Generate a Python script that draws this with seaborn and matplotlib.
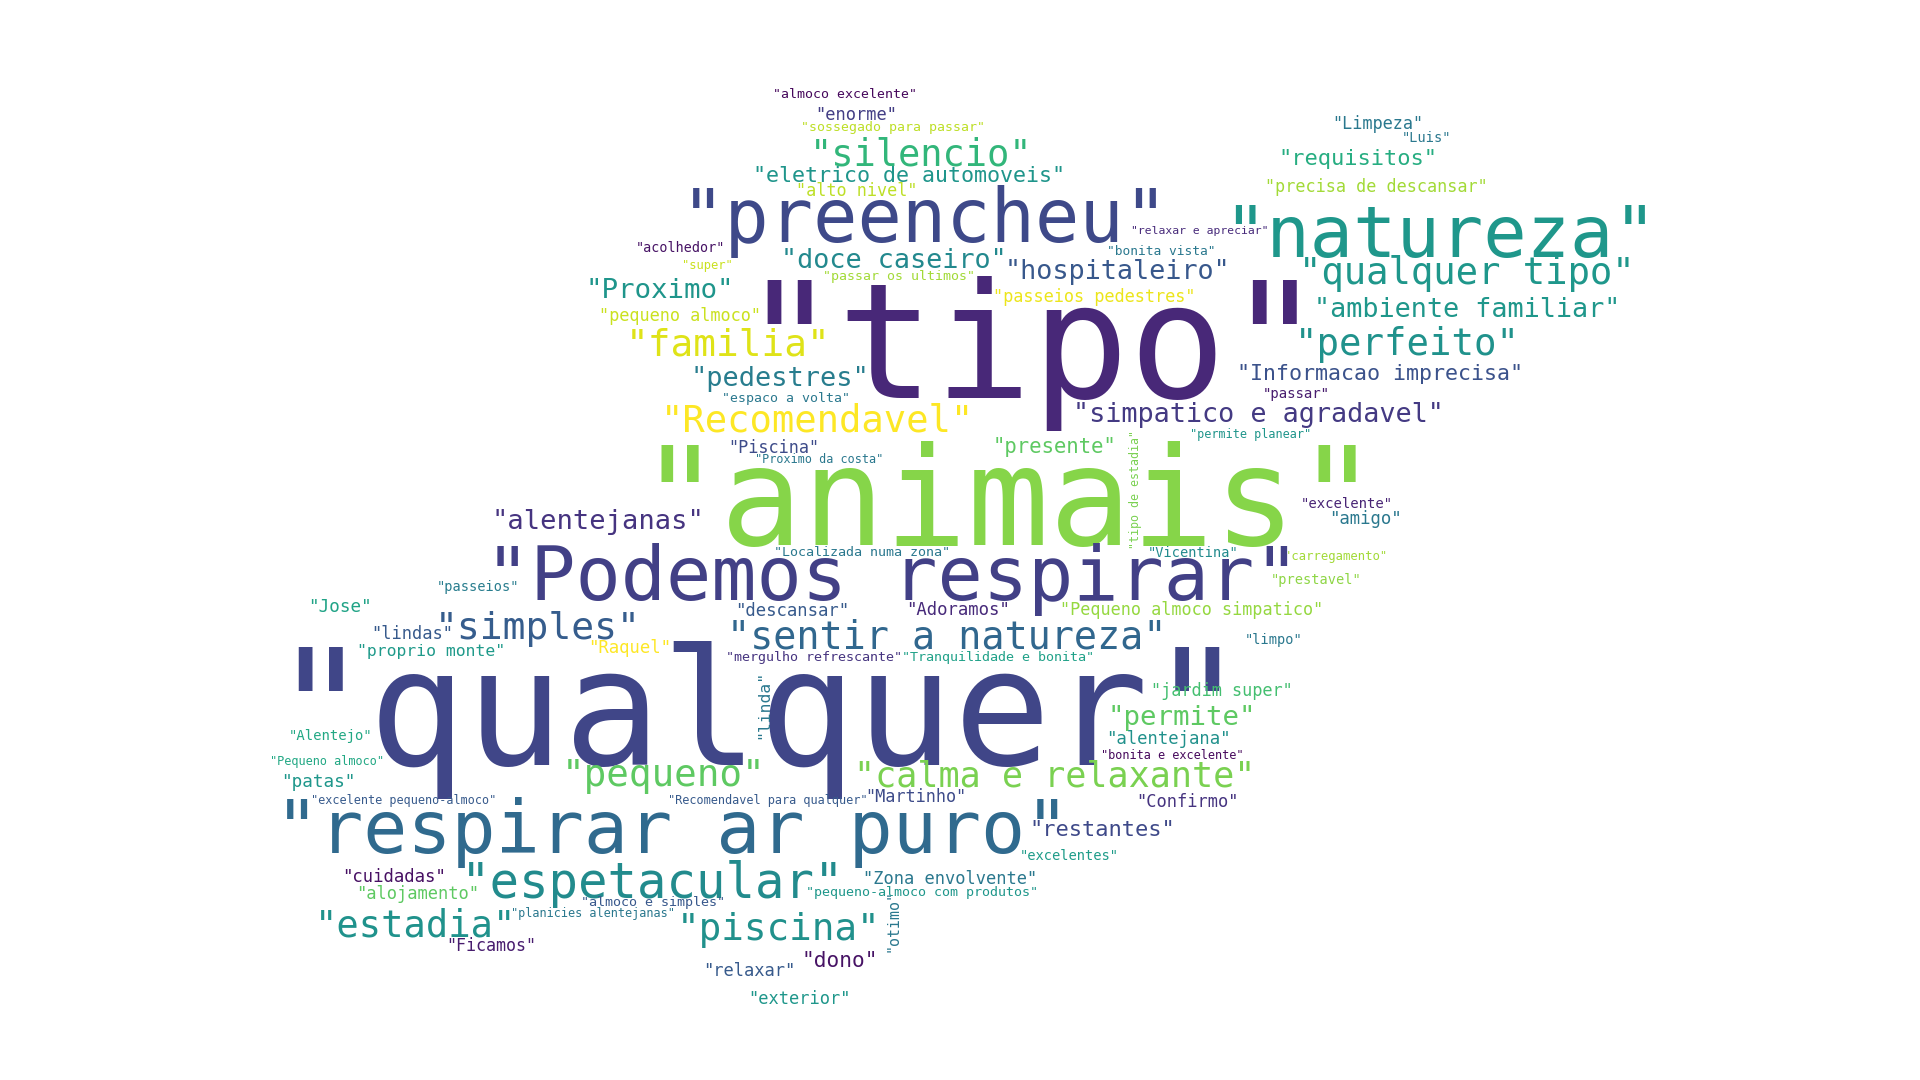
import numpy as np
import pandas as pd
import matplotlib
matplotlib.use("Agg")
import matplotlib.pyplot as plt
import seaborn as sns

# ---- data: words and their weights (relative size in the cloud) ----
words = [
    '"almoco excelente"', '"enorme"', '"sossegado para passar"', '"silencio"',
    '"eletrico de automoveis"', '"alto nivel"', '"preencheu"', '"natureza"',
    '"relaxar e apreciar"', '"bonita vista"', '"acolhedor"', '"super"',
    '"doce caseiro"', '"passar os ultimos"', '"hospitaleiro"', '"qualquer tipo"',
    '"Proximo"', '"tipo"', '"passeios pedestres"', '"ambiente familiar"',
    '"pequeno almoco"', '"familia"', '"perfeito"', '"pedestres"',
    '"Informacao imprecisa"', '"espaco a volta"', '"passar"', '"Recomendavel"',
    '"simpatico e agradavel"', '"permite planear"', '"Piscina"', '"Proximo da costa"',
    '"presente"', '"tipo de estadia"', '"animais"', '"excelente"',
    '"amigo"', '"alentejanas"', '"Localizada numa zona"', '"Vicentina"',
    '"carregamento"', '"Podemos respirar"', '"prestavel"', '"passeios"',
    '"Jose"', '"descansar"', '"Adoramos"', '"Pequeno almoco simpatico"',
    '"simples"', '"lindas"', '"sentir a natureza"', '"limpo"',
    '"proprio monte"', '"Raquel"', '"mergulho refrescante"', '"Tranquilidade e bonita"',
    '"qualquer"', '"linda"', '"jardim super"', '"permite"',
    '"Alentejo"', '"alentejana"', '"bonita e excelente"', '"Pequeno almoco"',
    '"patas"', '"pequeno"', '"calma e relaxante"', '"excelente pequeno-almoco"',
    '"Recomendavel para qualquer"', '"Martinho"', '"Confirmo"', '"respirar ar puro"',
    '"restantes"', '"excelentes"', '"cuidadas"', '"espetacular"',
    '"Zona envolvente"', '"pequeno-almoco com produtos"', '"alojamento"', '"almoco e simples"',
    '"planicies alentejanas"', '"estadia"', '"piscina"', '"otimo"',
    '"Ficamos"', '"relaxar"', '"dono"', '"exterior"',
    '"Limpeza"', '"Luis"', '"requisitos"', '"precisa de descansar"',
]
weights = [
    6.4, 8.0, 6.4, 17.6,
    10.5, 8.0, 35.1, 34.2,
    5.5, 6.2, 6.45, 5.7,
    12.9, 6.4, 12.9, 17.9,
    13.0, 75.0, 8.15, 13.0,
    8.1, 17.9, 17.8, 12.9,
    10.5, 6.4, 6.6, 17.9,
    13.0, 5.7, 8.0, 5.7,
    9.8, 5.6, 64.7, 6.6,
    8.1, 13.0, 6.5, 6.5,
    5.9, 36.3, 6.5, 6.5,
    8.2, 8.2, 8.2, 8.1,
    18.0, 8.0, 18.6, 6.4,
    7.9, 8.1, 6.5, 6.5,
    77.0, 7.7, 8.1, 13.0,
    6.6, 8.25, 5.75, 5.75,
    8.3, 17.8, 17.0, 5.7,
    5.75, 8.0, 8.1, 35.4,
    10.5, 6.6, 8.2, 23.5,
    8.2, 6.5, 8.2, 6.45,
    5.7, 17.6, 17.8, 7.0,
    7.9, 8.1, 9.8, 8.1,
    8.0, 6.3, 10.5, 8.1,
]

# ---- layout (cloud placement) kept apart from the data ----
# x = centre, y = baseline (or centre for vertical words), rotation in degrees
layout_x = [
    690, 699, 729, 752,
    742, 700, 755, 1176,
    980, 948, 556, 578,
    730, 734, 913, 1198,
    539, 843, 894, 1198,
    555, 595, 1149, 637,
    1127, 642, 1059, 668,
    1028, 1021, 632, 669,
    861, 927, 824, 1100,
    1115, 488, 704, 974,
    1091, 729, 1075, 390,
    278, 647, 782, 973,
    439, 337, 773, 1040,
    352, 514, 665, 815,
    620, 624, 998, 965,
    270, 954, 957, 267,
    260, 542, 861, 330,
    627, 748, 970, 549,
    900, 873, 322, 533,
    776, 753, 341, 533,
    484, 339, 636, 729,
    401, 612, 686, 653,
    1125, 1165, 1109, 1124,
]
layout_y = [
    80, 98, 107, 135,
    149, 160, 198, 210,
    191, 208, 206, 220,
    219, 229, 228, 232,
    243, 325, 247, 259,
    262, 290, 290, 315,
    310, 328, 325, 352,
    345, 358, 370, 378,
    370, 400, 445, 415,
    428, 432, 454, 455,
    457, 490, 477, 483,
    500, 503, 502, 502,
    522, 522, 530, 526,
    536, 533, 540, 540,
    625, 575, 568, 592,
    604, 608, 620, 625,
    643, 642, 642, 657,
    657, 655, 659, 697,
    683, 702, 720, 733,
    722, 732, 734, 740,
    749, 765, 768, 752,
    777, 797, 790, 820,
    105, 116, 135, 157,
]
rotation = [0] * len(words)
for w in ('"tipo de estadia"', '"linda"', '"otimo"'):
    rotation[words.index(w)] = 90

# colour position on the viridis map for each word
color_pos = [
    0.02, 0.18, 0.90, 0.66,
    0.52, 0.90, 0.22, 0.53,
    0.12, 0.40, 0.05, 0.92,
    0.47, 0.86, 0.27, 0.53,
    0.52, 0.11, 0.97, 0.53,
    0.92, 0.95, 0.51, 0.42,
    0.25, 0.40, 0.08, 1.00,
    0.17, 0.52, 0.23, 0.40,
    0.75, 0.80, 0.82, 0.10,
    0.40, 0.15, 0.40, 0.48,
    0.86, 0.19, 0.83, 0.42,
    0.58, 0.28, 0.12, 0.84,
    0.29, 0.28, 0.33, 0.40,
    0.54, 1.00, 0.15, 0.57,
    0.21, 0.40, 0.70, 0.75,
    0.60, 0.50, 0.02, 0.60,
    0.53, 0.75, 0.80, 0.28,
    0.28, 0.23, 0.15, 0.34,
    0.22, 0.55, 0.04, 0.48,
    0.40, 0.53, 0.75, 0.27,
    0.40, 0.51, 0.50, 0.40,
    0.08, 0.28, 0.05, 0.53,
    0.40, 0.40, 0.62, 0.86,
]

df = pd.DataFrame({"word": words, "weight": weights, "x": layout_x,
                   "y": layout_y, "rot": rotation, "c": color_pos})

sns.set_theme(style="white")
plt.rcParams["font.family"] = ["DejaVu Sans Mono", "DejaVu Sans"]
cmap = sns.color_palette("viridis", as_cmap=True)

W, H = 1568, 882
fig = plt.figure(figsize=(19.2, 10.8), dpi=100)
ax = fig.add_axes([0, 0, 1, 1])
ax.set_xlim(0, W)
ax.set_ylim(H, 0)
ax.axis("off")

scale = 1920 / W
for r in df.itertuples():
    n = len(r.word)
    # ink width of a monospace word ~ (n * advance - outer bearings) * size
    fs_px = r.weight * n * scale / (n * 0.602 - 0.2)
    fs_pt = fs_px * 72 / 100
    if r.rot == 0:
        ax.text(r.x, r.y, r.word, fontsize=fs_pt, color=cmap(r.c),
                ha="center", va="baseline")
    else:
        ax.text(r.x, r.y, r.word, fontsize=fs_pt, color=cmap(r.c),
                ha="center", va="center", rotation=r.rot)

fig.savefig("out.png", dpi=100, facecolor="white")
